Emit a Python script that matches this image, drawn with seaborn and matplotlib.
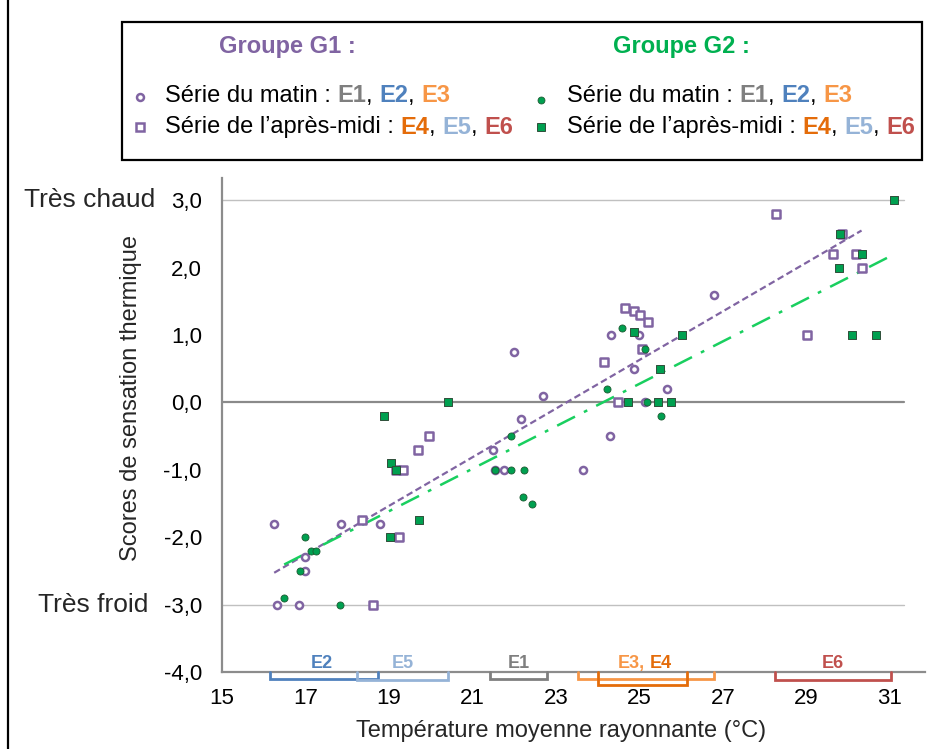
import numpy as np
import matplotlib
matplotlib.use("Agg")
import matplotlib.pyplot as plt
import seaborn as sns
from matplotlib.lines import Line2D
from matplotlib.patches import Rectangle
from matplotlib.ticker import FuncFormatter
from matplotlib.transforms import blended_transform_factory

# --- données (T en °C, score) ---
g1_matin_t = [16.25, 16.31, 16.85, 17.0, 16.98, 17.84, 18.78, 21.5, 21.53, 21.76, 22.17,
              21.99, 22.7, 23.65, 24.29, 24.31, 25.0, 24.88, 25.65, 25.14, 26.79]
g1_matin_s = [-1.8, -3.0, -3.0, -2.5, -2.3, -1.8, -1.8, -0.7, -1.0, -1.0, -0.25,
              0.75, 0.1, -1.0, -0.5, 1.0, 1.0, 0.5, 0.2, 0.0, 1.6]

g1_aprem_t = [18.36, 18.62, 19.16, 19.33, 19.25, 19.70, 19.95, 24.16, 24.49, 24.66, 24.88,
              25.02, 25.2, 25.07, 28.26, 29.01, 29.86, 29.63, 30.19, 30.32]
g1_aprem_s = [-1.75, -3.0, -1.0, -1.0, -2.0, -0.7, -0.5, 0.6, 0.0, 1.4, 1.35,
              1.3, 1.2, 0.8, 2.8, 1.0, 2.5, 2.2, 2.2, 2.0]

g2_matin_t = [16.49, 16.87, 16.99, 17.13, 17.25, 17.83, 21.53, 21.92, 21.92, 22.23, 22.2,
              22.43, 24.23, 24.57, 25.14, 25.18, 25.51]
g2_matin_s = [-2.9, -2.5, -2.0, -2.2, -2.2, -3.0, -1.0, -1.0, -0.5, -1.0, -1.4,
              -1.5, 0.2, 1.1, 0.8, 0.0, -0.2]

g2_aprem_t = [18.87, 19.05, 19.16, 19.03, 19.73, 20.41, 24.72, 24.88, 25.45, 25.75, 25.49,
              26.02, 29.81, 29.79, 30.32, 30.08, 30.66, 31.1]
g2_aprem_s = [-0.2, -0.9, -1.0, -2.0, -1.75, 0.0, 0.0, 1.05, 0.0, 0.0, 0.5,
              1.0, 2.5, 2.0, 2.2, 1.0, 1.0, 3.0]

# plages de température des séances
seances = ["E2", "E5", "E1", "E3", "E4", "E6"]
seance_min = [16.15, 18.23, 21.42, 23.53, 24.01, 28.25]
seance_max = [18.74, 20.41, 22.78, 26.78, 26.15, 31.02]

x_ticks = [15, 17, 19, 21, 23, 25, 27, 29, 31]
y_ticks = [-4, -3, -2, -1, 0, 1, 2, 3]

# --- styles ---
PURPLE = "#8064A2"
GREEN_PT = "#00A050"
GREEN_LINE = "#19CF5F"
AXIS_GREY = "#8C8C8C"
COL_E = {"E1": "#7F7F7F", "E2": "#4F81BD", "E3": "#F79646",
         "E4": "#E46C0A", "E5": "#95B3D7", "E6": "#C0504D"}
DEPTH = {"E2": 0.10, "E5": 0.12, "E1": 0.11, "E3": 0.10, "E4": 0.20, "E6": 0.12}

sns.set_theme(style="white")
plt.rcParams["font.family"] = ["Liberation Sans", "DejaVu Sans"]

W, H = 928, 749
fig = plt.figure(figsize=(W / 100, H / 100), dpi=100)
ax = fig.add_axes([222 / W, 1 - 672 / H, (925 - 222) / W, (672 - 178) / H])

def px(x, y):
    return x / W, 1 - y / H

# nuages de points
pt_kw = dict(ax=ax, zorder=4, legend=False)
sns.scatterplot(x=g1_matin_t, y=g1_matin_s, marker="o", s=26, facecolor="white",
                edgecolor=PURPLE, linewidth=1.8, **pt_kw)
sns.scatterplot(x=g1_aprem_t, y=g1_aprem_s, marker="s", s=34, facecolor="white",
                edgecolor=PURPLE, linewidth=1.8, **pt_kw)
sns.scatterplot(x=g2_matin_t, y=g2_matin_s, marker="o", s=26, facecolor=GREEN_PT,
                edgecolor="#1E5A32", linewidth=0.6, **pt_kw)
sns.scatterplot(x=g2_aprem_t, y=g2_aprem_s, marker="s", s=30, facecolor=GREEN_PT,
                edgecolor="#2F4F3A", linewidth=0.7, **pt_kw)

# droites de régression
sns.regplot(x=np.array(g1_matin_t + g1_aprem_t), y=np.array(g1_matin_s + g1_aprem_s),
            scatter=False, ci=None, truncate=True, color=PURPLE, ax=ax,
            line_kws=dict(ls=(0, (3, 1.6)), lw=1.6, zorder=3))
sns.regplot(x=np.array(g2_matin_t + g2_aprem_t), y=np.array(g2_matin_s + g2_aprem_s),
            scatter=False, ci=None, truncate=True, color=GREEN_LINE, ax=ax,
            line_kws=dict(ls=(0, (8, 4, 1.5, 4)), lw=1.8, zorder=3))

ax.set_xlim(15, 31.84)
ax.set_ylim(-4, 3.33)
ax.axhline(3, xmax=0.97, color="#C0C0C0", lw=1, zorder=1)
ax.axhline(-3, xmax=0.97, color="#C0C0C0", lw=1, zorder=1)
ax.axhline(0, xmax=0.97, color="#8A8A8A", lw=1.6, zorder=1)

ax.set_xticks(x_ticks)
ax.set_yticks(y_ticks)
ax.yaxis.set_major_formatter(FuncFormatter(lambda v, p: f"{v:.1f}".replace(".", ",")))
ax.tick_params(axis="both", direction="inout", length=11, width=1.4, color=AXIS_GREY,
               labelsize=16, labelcolor="#000000")
ax.tick_params(axis="x", pad=6)
ax.tick_params(axis="y", pad=9)
for side in ["top", "right"]:
    ax.spines[side].set_visible(False)
for side in ["left", "bottom"]:
    ax.spines[side].set_color(AXIS_GREY)
    ax.spines[side].set_linewidth(1.6)

ax.set_xlabel("Température moyenne rayonnante (°C)", fontsize=17)
ax.set_ylabel("Scores de sensation thermique", fontsize=17)
ax.xaxis.set_label_coords(0.482, -0.098)
ax.yaxis.set_label_coords(-0.114, 0.555)

tr = blended_transform_factory(ax.transAxes, ax.transData)
ax.text(-0.095, 3.0, "Très chaud", transform=tr, ha="right", va="center", fontsize=19)
ax.text(-0.105, -3.0, "Très froid", transform=tr, ha="right", va="center", fontsize=19)

# crochets des séances sous l'axe
for name, lo, hi in zip(seances, seance_min, seance_max):
    d = DEPTH[name]
    ax.plot([lo, lo, hi, hi], [-4, -4 - d, -4 - d, -4], color=COL_E[name], lw=2,
            clip_on=False, zorder=5, solid_joinstyle="miter")
lab_y = -3.88
for name in ["E2", "E5", "E1", "E6"]:
    i = seances.index(name)
    xc = (seance_min[i] + seance_max[i]) / 2
    if name == "E2":
        xc = 17.39
    ax.text(xc, lab_y, name, color=COL_E[name], fontsize=13, fontweight="bold",
            ha="center", va="center")
ax.text(25.12, lab_y, "E3,", color=COL_E["E3"], fontsize=13, fontweight="bold",
        ha="right", va="center")
ax.text(25.25, lab_y, "E4", color=COL_E["E4"], fontsize=13, fontweight="bold",
        ha="left", va="center")

# --- légende en haut ---
fig.add_artist(Rectangle(px(122, 160), (922 - 122) / W, (160 - 22) / H,
                         transform=fig.transFigure, fill=False, ec="black", lw=1.6))
fig.add_artist(Line2D([8 / W, 8 / W], [0, 1], transform=fig.transFigure,
                      color="black", lw=1.6))

fig.text(*px(287, 47), "Groupe G1 :", color=PURPLE, fontsize=17, fontweight="bold",
         ha="center", va="center")
fig.text(*px(681, 47), "Groupe G2 :", color="#00B050", fontsize=17, fontweight="bold",
         ha="center", va="center")

renderer = fig.canvas.get_renderer()

def colored_line(x, y, parts):
    fx, fy = px(x, y)
    for txt, col, bold in parts:
        t = fig.text(fx, fy, txt, color=col, fontsize=17, va="center", ha="left",
                     fontweight="bold" if bold else "normal")
        fx += t.get_window_extent(renderer=renderer).width / fig.bbox.width

matin = [("Série du matin : ", "black", False), ("E1", COL_E["E1"], True), (", ", "black", False),
         ("E2", COL_E["E2"], True), (", ", "black", False), ("E3", COL_E["E3"], True)]
aprem = [("Série de l’après-midi : ", "black", False), ("E4", COL_E["E4"], True),
         (", ", "black", False), ("E5", COL_E["E5"], True), (", ", "black", False),
         ("E6", COL_E["E6"], True)]

colored_line(165, 96, matin)
colored_line(165, 127, aprem)
colored_line(567, 96, matin)
colored_line(567, 127, aprem)

def leg_marker(x, y, **kw):
    fig.add_artist(Line2D([x / W], [1 - y / H], transform=fig.transFigure, ls="none", **kw))

leg_marker(140, 97, marker="o", ms=5, mfc="white", mec=PURPLE, mew=1.8)
leg_marker(140, 127, marker="s", ms=5.5, mfc="white", mec=PURPLE, mew=1.8)
leg_marker(541, 100, marker="o", ms=5, mfc=GREEN_PT, mec="#1E5A32", mew=0.6)
leg_marker(541, 127, marker="s", ms=5.5, mfc=GREEN_PT, mec="#2F4F3A", mew=0.7)

fig.savefig("out.png", dpi=100)
